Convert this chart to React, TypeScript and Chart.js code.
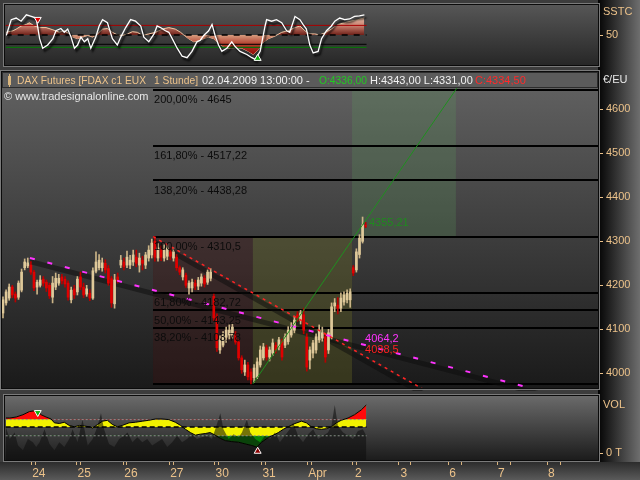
import React, { useEffect, useRef } from "react";
import { Chart, registerables } from "chart.js";

Chart.register(...registerables);

const FONT = '"Liberation Sans", Arial, sans-serif';
const TAN = "#ecc28a";

// FDAX hourly candles, 23.03.2009 – 02.04.2009 13:00 (bar index 0..117)
const openPrices = [
  4137, 4160, 4171, 4196, 4180, 4173, 4189, 4240, 4244, 4246, 4230, 4196, 4200, 4214, 4207, 4200, 4173, 4196, 4205, 4219,
  4214, 4205, 4167, 4192, 4185, 4219, 4196, 4180, 4182, 4171, 4232, 4240, 4240, 4250, 4238, 4215, 4158, 4219, 4246, 4253,
  4246, 4246, 4253, 4264, 4246, 4257, 4246, 4262, 4269, 4300, 4262, 4280, 4262, 4266, 4276, 4262, 4264, 4240, 4219, 4223,
  4194, 4194, 4205, 4198, 4205, 4216, 4207, 4216, 4175, 4130, 4053, 4064, 4082, 4087, 4087, 4087, 4071, 4035, 4003, 4019,
  4003, 3990, 3992, 4019, 4035, 4058, 4037, 4046, 4064, 4060, 4072, 4064, 4072, 4087, 4098, 4133, 4121, 4133, 4082, 4030,
  4046, 4053, 4076, 4080, 4083, 4053, 4083, 4153, 4155, 4148, 4162, 4167, 4167, 4240, 4235, 4270, 4300, 4336,
];
const highPrices = [
  4174, 4190, 4203, 4200, 4185, 4210, 4237, 4260, 4262, 4254, 4234, 4212, 4222, 4220, 4212, 4205, 4220, 4228, 4225, 4225,
  4220, 4210, 4196, 4200, 4220, 4230, 4205, 4200, 4190, 4240, 4276, 4270, 4262, 4258, 4245, 4220, 4225, 4228, 4268, 4262,
  4278, 4268, 4280, 4280, 4273, 4266, 4275, 4290, 4305, 4310.5, 4295, 4290, 4292, 4293, 4283, 4285, 4270, 4244, 4240, 4228,
  4210, 4214, 4212, 4218, 4226, 4222, 4235, 4238, 4180, 4135, 4085, 4095, 4105, 4110, 4112, 4095, 4076, 4040, 4030, 4025,
  4010, 4020, 4035, 4062, 4068, 4064, 4060, 4078, 4070, 4082, 4078, 4090, 4106, 4115, 4130, 4140, 4143, 4148, 4090, 4060,
  4075, 4090, 4110, 4105, 4090, 4100, 4160, 4170, 4172, 4183, 4185, 4190, 4192, 4245, 4283, 4315, 4355.21, 4343,
];
const lowPrices = [
  4126, 4155, 4166, 4172, 4162, 4168, 4185, 4235, 4240, 4225, 4188, 4180, 4196, 4198, 4186, 4170, 4160, 4190, 4200, 4203,
  4196, 4166, 4160, 4170, 4178, 4190, 4172, 4175, 4165, 4168, 4228, 4235, 4232, 4228, 4200, 4150, 4148, 4205, 4240, 4235,
  4240, 4238, 4245, 4242, 4230, 4235, 4238, 4255, 4262, 4255, 4255, 4256, 4255, 4258, 4258, 4255, 4234, 4224, 4212, 4195,
  4180, 4185, 4190, 4190, 4198, 4196, 4202, 4210, 4120, 4050, 4045, 4060, 4070, 4078, 4080, 4066, 4030, 4000, 3995, 3985,
  3976, 3980, 3988, 4014, 4030, 4030, 4028, 4040, 4046, 4053, 4030, 4058, 4066, 4082, 4092, 4118, 4112, 4090, 4005, 4010,
  4035, 4046, 4070, 4073, 4025, 4045, 4078, 4140, 4135, 4140, 4155, 4160, 4150, 4222, 4230, 4262, 4296, 4331,
];
const closePrices = [
  4167, 4185, 4196, 4178, 4171, 4205, 4230, 4253, 4251, 4230, 4194, 4207, 4212, 4205, 4194, 4176, 4205, 4216, 4216, 4210,
  4203, 4173, 4189, 4178, 4214, 4196, 4178, 4192, 4171, 4233, 4253, 4257, 4251, 4235, 4205, 4160, 4212, 4210, 4257, 4242,
  4264, 4257, 4269, 4250, 4262, 4250, 4269, 4280, 4296, 4264, 4285, 4264, 4280, 4285, 4266, 4276, 4240, 4230, 4235, 4200,
  4205, 4207, 4198, 4212, 4219, 4203, 4230, 4230, 4126, 4058, 4076, 4087, 4098, 4098, 4105, 4071, 4035, 4008, 4019, 3992,
  3985, 4012, 4026, 4053, 4060, 4037, 4053, 4069, 4053, 4076, 4037, 4083, 4098, 4105, 4121, 4126, 4137, 4098, 4014, 4053,
  4069, 4083, 4098, 4092, 4037, 4092, 4151, 4160, 4148, 4171, 4178, 4182, 4185, 4228, 4276, 4307, 4337, 4334.5,
];

// price axis
const priceTicks = [4000, 4100, 4200, 4300, 4400, 4500, 4600];
const priceMin = 3966.6;
const priceMax = 4684.8;

// Fibonacci retracement / extension of the 4310,5 -> 3976 swing
const swingHigh = 4310.5;
const swingLow = 3976;
const fibRatios = [2.0, 1.618, 1.382, 1.0, 0.618, 0.5, 0.382, 0.0];
const fibStartBar = 48.4;
const zoneBounds = [48.4, 80.6, 112.6, 146.1];

// trend line anchors (bar index, price)
const magentaAnchors = [{ x: 8.7, y: 4262 }, { x: 116.8, y: 4064.2 }];
const redAnchors = [{ x: 48.4, y: 4310.5 }, { x: 116.8, y: 4038.5 }];
const greenAnchors = [{ x: 80.6, y: 3976 }, { x: 146.1, y: 4645 }];
const greenTagValue = 4355.21;

// SSTC oscillator
const sstcIdx = [0.1, 1.7, 3.3, 4.9, 6.6, 8.2, 9.8, 10.9, 11.9, 13.5, 15.2, 16.2, 17.8, 18.9, 20, 21.1, 22.2, 23.2, 24.3, 25.4,
  26.5, 27.5, 29.1, 30.2, 31.3, 32.9, 34.5, 36.1, 37.2, 38.8, 40.4, 42, 43.7, 44.7, 46.3, 48, 49, 50.1, 51.7, 52.8,
  53.9, 55.5, 57.1, 58.7, 60.3, 61.9, 63, 64.1, 65.7, 66.8, 67.8, 68.9, 70, 71.6, 73.2, 74.3, 75.9, 78.1, 79.7, 80.8,
  82.4, 84, 84.5, 86.1, 87.7, 89.4, 91, 92, 93.7, 95.3, 96.3, 97.4, 98.5, 99.6, 101.2, 102.3, 103.9, 105.5, 106.6, 108.2,
  109.8, 111.4, 113, 114.6, 116.2];
const sstcVal = [49.2, 75.6, 78.3, 73, 83.6, 81, 78.3, 43.9, 28, 33.3, 43.9, 57.1, 60.8, 54.5, 59.8, 46.5, 28, 33.3, 46.5, 38.6,
  43.9, 28, 46.5, 65, 75.6, 70.4, 43.9, 33.3, 46.5, 62.4, 75.6, 73, 65, 46.5, 38.6, 51.8, 65, 62.4, 57.1, 54.5,
  43.9, 28, 14.8, 12.2, 22.7, 38.6, 41.3, 49.2, 57.1, 67.7, 49.2, 33.3, 22.7, 28, 38.6, 30.7, 22.7, 17.5, 12.2, 9.5,
  22.7, 65, 75.6, 73, 75.6, 70.4, 57.1, 54.5, 81, 75.6, 67.7, 59.8, 33.3, 20.1, 22.7, 43.9, 57.1, 65, 73, 78.3,
  75.6, 76.7, 81, 82, 83.6];
const sstcAreaIdx = [0.1, 2.3, 3.3, 4.9, 6.6, 7.6, 9.2, 10.9, 13, 15.2, 17.3, 18.9, 20.5, 21.6, 23.2, 24.8, 26.5, 28.1, 29.7, 31.3,
  32.9, 34.5, 36.1, 37.7, 39.4, 41, 42.6, 44.2, 46.3, 48.5, 50.6, 52.8, 54.9, 56.6, 57.6, 59.2, 60.9, 62.5, 64.1, 65.7,
  67.3, 68.9, 70.5, 72.2, 74.3, 76.5, 78.6, 80.2, 81.8, 82.9, 85.1, 87.2, 89.4, 91.5, 93.7, 95.3, 96.9, 98.5, 100.1, 101.7,
  103.3, 105.5, 107.6, 109.8, 111.9, 114.1, 116.2];
const sstcAreaVal = [54.5, 57.1, 59.8, 65, 67.7, 70.4, 65, 62.4, 62.4, 58.7, 54.5, 57.1, 51.8, 46.5, 43.9, 46.5, 49.2, 46.5, 51.8, 59.8,
  60.8, 54.5, 50.2, 49.2, 51.8, 55.5, 54.5, 49.2, 51.8, 54.5, 59.8, 62.4, 59.8, 54.5, 50.2, 43.9, 38.6, 41.3, 43.9, 46.5,
  43.9, 36, 30.7, 28, 29.1, 28, 22.7, 17.5, 25.4, 36, 43.9, 48.1, 54.5, 57.1, 62.4, 65, 57.1, 51.8, 51.8, 50.2,
  53.4, 59.8, 67.7, 70.4, 73, 75.6, 78.3];
const sstcLevels = { upper: 66, mid: 50, lower: 34.5, floor: 29.5 };
const sstcSignals = [{ x: 10.3, y: 76, down: true }, { x: 81.6, y: 11, down: false }];

// volume oscillator and volume
const volOscIdx = [0, 1.2, 3.3, 5.5, 7.6, 9.8, 11.4, 13, 14.6, 15.7, 17.3, 18.9, 20.5, 22.2, 23.8, 25.4, 27, 28.1, 29.7, 31.3,
  32.9, 34.5, 36.1, 37.7, 39.9, 42, 44.2, 46.3, 48.5, 50.6, 52.8, 54.9, 56.6, 58.2, 59.8, 61.4, 63, 64.6, 66.2, 67.8,
  69.5, 71.1, 73.2, 75.4, 77.5, 79.7, 81.3, 82.9, 85.1, 86.7, 88.3, 89.9, 91.5, 93.7, 95.8, 97.4, 99, 100.6, 102.3, 103.9,
  105.5, 107.1, 108.7, 110.9, 113, 115.2, 116.8];
const volOscVal = [61.5, 61.5, 63.2, 67.2, 72.8, 74.5, 67.2, 63.2, 59.8, 53, 51.9, 54.1, 48.5, 46.2, 48.5, 47.4, 46.2, 44, 50.2, 55.9,
  57.5, 50.2, 46.2, 48.5, 53, 54.1, 55.9, 57.5, 59.8, 59.8, 58.7, 54.1, 48.5, 41.7, 36, 31.5, 33.2, 34.3, 36, 31.5,
  25.9, 21.9, 20.2, 19.1, 16.2, 13.4, 10.6, 19.1, 27.6, 31.5, 36, 41.7, 46.2, 51.9, 55.9, 53, 46.2, 42.8, 41.7, 42.8,
  46.2, 53, 57.5, 61.5, 67.2, 75.7, 84.2];
const volIdx = [0, 1.2, 2.8, 3.9, 5.5, 7.1, 8.7, 9.8, 10.9, 12.5, 14.1, 15.7, 17.3, 18.9, 20.5, 21.6, 23.2, 24.8, 26.5, 28.1,
  29.5, 30.8, 31.8, 33.4, 35.1, 36.7, 38.3, 39.4, 41, 42.6, 44.2, 45.8, 47.4, 49, 50.6, 52.3, 53.9, 55.5, 57.1, 58.7,
  60.3, 61.9, 63.5, 65.2, 66.8, 68.2, 69.5, 70.5, 72.2, 73.8, 75.4, 76.5, 78.1, 79.2, 80.8, 82.4, 84, 85.6, 87.2, 88.8,
  90.4, 92, 93.1, 94.7, 96.3, 98, 99.6, 101.2, 102.8, 104.4, 105.5, 106.6, 107.6, 109.3, 110.9, 112.5, 114.1, 115.7, 116.8];
const volVal = [44.5, 24.7, 36, 13.4, 4.9, 24.7, 19.1, 10.6, 19.1, 41.7, 16.2, 4.9, 19.1, 10.6, 24.7, 41.7, 19.1, 58.7, 13.4, 24.7,
  44.5, 70, 41.7, 16.2, 10.6, 24.7, 30.4, 36, 19.1, 27.6, 19.1, 24.7, 13.4, 19.1, 24.7, 10.6, 19.1, 30.4, 19.1, 24.7,
  33.2, 24.7, 27.6, 30.4, 24.7, 47.4, 70, 41.7, 24.7, 33.2, 27.6, 36, 58.7, 36, 24.7, 19.1, 30.4, 24.7, 36, 19.1,
  30.4, 41.7, 53, 30.4, 19.1, 33.2, 41.7, 24.7, 30.4, 36, 47.4, 84.2, 47.4, 36, 30.4, 24.7, 38.9, 41.7, 30.4];
const volLevels = { upper: 58.7, mid: 45.7, lower: 30.4 };
const volSignals = [{ x: 10.3, y: 71, down: true }, { x: 81.6, y: 3.3, down: false }];

// time axis
const dayNames = ["24", "25", "26", "27", "30", "31", "Apr", "2", "3", "6", "7", "8"];
const dayLabelIdx = [10.65, 25.35, 40.5, 55.4, 70.1, 85.3, 101.0, 114.2, 129.0, 144.8, 160.6, 176.8];
const dayMarkIdx = [8.26, 9.58, 22.74, 24.06, 38.13, 39.2, 53.0, 54.3, 67.74, 68.8, 82.9, 84.0, 97.74, 99.1, 112.5, 113.8,
  127.4, 131.3, 143.5, 147.7, 159.4, 163.5, 175.5, 179.7];

const X_MIN = -0.32;
const X_MAX = 191.94;
const DATA_END = 116.9;

const pts = (xs: number[], ys: number[]) => xs.map((x, i) => ({ x, y: ys[i] }));
const slopeOf = (a: any, b: any) => (b.y - a.y) / (b.x - a.x);
const extendLine = (a: any, b: any, xEnd: number) => [a, b, { x: xEnd, y: b.y + slopeOf(a, b) * (xEnd - b.x) }];
const deNum = (v: number, d: number) => v.toFixed(d).replace(".", ",");
const deTrim = (v: number) => String(Math.round(v * 100) / 100).replace(".", ",");

const base: any = {
  responsive: false,
  animation: false,
  devicePixelRatio: 1,
  events: [],
  plugins: { legend: { display: false }, tooltip: { enabled: false } },
};

const hiddenX: any = { type: "linear", min: X_MIN, max: X_MAX, display: false, offset: false };

function rightAxis(min: number, max: number, ticks: number[], fmt: (v: number) => string) {
  return {
    type: "linear",
    position: "right",
    min,
    max,
    afterBuildTicks: (s: any) => {
      s.ticks = ticks.map((v) => ({ value: v }));
    },
    afterFit: (s: any) => {
      s.width = 42;
      s.paddingTop = 0;
      s.paddingBottom = 0;
    },
    ticks: { color: TAN, font: { family: FONT, size: 11 }, padding: 3, callback: (v: any) => fmt(Number(v)) },
    grid: { drawOnChartArea: false, drawTicks: true, tickLength: 5, tickColor: TAN },
    border: { display: false },
  };
}

function panelPlugin(stops: [number, string][]) {
  return {
    id: "panelFrame",
    beforeDraw(chart: any) {
      const { ctx, chartArea: a } = chart;
      const g = ctx.createLinearGradient(0, a.top, 0, a.bottom);
      stops.forEach(([o, c]) => g.addColorStop(o, c));
      ctx.save();
      ctx.fillStyle = g;
      ctx.fillRect(a.left, a.top, a.right - a.left, a.bottom - a.top);
      ctx.restore();
    },
    afterDraw(chart: any) {
      const { ctx, chartArea: a } = chart;
      ctx.save();
      ctx.lineWidth = 1;
      ctx.strokeStyle = "#0b0b0b";
      ctx.strokeRect(a.left - 0.5, a.top - 0.5, a.right - a.left + 1, a.bottom - a.top + 1);
      ctx.strokeStyle = "#7a7a7a";
      ctx.strokeRect(a.left - 1.5, a.top - 1.5, a.right - a.left + 3, a.bottom - a.top + 3);
      ctx.restore();
    },
  };
}

// per-dataset canvas shadow / pixel shift
const styleHooks = {
  id: "styleHooks",
  beforeDatasetDraw(chart: any, args: any) {
    const ds = chart.data.datasets[args.index];
    if (!ds.shadow && !ds.shift) return;
    const ctx = chart.ctx;
    ctx.save();
    if (ds.shift) ctx.translate(ds.shift[0], ds.shift[1]);
    if (ds.shadow) {
      ctx.shadowColor = ds.shadow.color;
      ctx.shadowBlur = ds.shadow.blur;
      ctx.shadowOffsetX = ds.shadow.dx;
      ctx.shadowOffsetY = ds.shadow.dy;
    }
  },
  afterDatasetDraw(chart: any, args: any) {
    const ds = chart.data.datasets[args.index];
    if (ds.shadow || ds.shift) chart.ctx.restore();
  },
};

function axisTitle(text: string, dy: number) {
  return {
    id: "axisTitle",
    afterDraw(chart: any) {
      const { ctx, chartArea: a } = chart;
      ctx.save();
      ctx.font = `11px ${FONT}`;
      ctx.fillStyle = text === "€/EU" ? "#e8e8e8" : TAN;
      ctx.textBaseline = "middle";
      ctx.fillText(text, a.right + 5, a.top + dy);
      ctx.restore();
    },
  };
}

const hLine = (v: number, color: string, dash: number[], width: number, order: number) => ({
  type: "line",
  data: [{ x: -0.1, y: v }, { x: DATA_END, y: v }],
  borderColor: color,
  borderDash: dash,
  borderWidth: width,
  pointRadius: 0,
  fill: false,
  order,
});

const signalSet = (sig: any[], colors: string[], order: number) => ({
  type: "line",
  data: sig.map((s) => ({ x: s.x, y: s.y })),
  showLine: false,
  pointStyle: "triangle",
  pointRadius: 4,
  pointRotation: sig.map((s) => (s.down ? 180 : 0)),
  pointBackgroundColor: colors,
  pointBorderColor: "#ffffff",
  pointBorderWidth: 1,
  order,
});

function makeSstc(canvas: HTMLCanvasElement) {
  const upperFill = (c: any) => {
    const ch = c.chart;
    if (!ch.chartArea) return "rgba(0,0,0,0)";
    const y = ch.scales.y;
    const g = ch.ctx.createLinearGradient(0, y.getPixelForValue(82), 0, y.getPixelForValue(50));
    g.addColorStop(0, "#f3cdb6");
    g.addColorStop(0.55, "#c27868");
    g.addColorStop(1, "#6e2018");
    return g;
  };
  const lowerFill = (c: any) => {
    const ch = c.chart;
    if (!ch.chartArea) return "rgba(0,0,0,0)";
    const y = ch.scales.y;
    const g = ch.ctx.createLinearGradient(0, y.getPixelForValue(50), 0, y.getPixelForValue(15));
    g.addColorStop(0, "#d69c7e");
    g.addColorStop(0.45, "#b23a2a");
    g.addColorStop(1, "#8c0000");
    return g;
  };
  const area = pts(sstcAreaIdx, sstcAreaVal);
  return new Chart(canvas, {
    type: "line",
    data: {
      datasets: [
        { data: area, backgroundColor: upperFill, fill: { target: { value: sstcLevels.mid }, below: "rgba(0,0,0,0)" }, borderColor: "#f0c8a4", borderWidth: 1, pointRadius: 0, order: 20 },
        { data: area, backgroundColor: lowerFill, fill: { target: { value: sstcLevels.mid }, above: "rgba(0,0,0,0)" }, borderWidth: 0, pointRadius: 0, order: 19 },
        hLine(sstcLevels.upper, "#a80000", [], 1, 10),
        hLine(sstcLevels.mid, "#000000", [6, 6], 1.5, 10),
        hLine(sstcLevels.lower, "#000000", [], 1, 10),
        hLine(sstcLevels.floor, "#0b6e0b", [], 1.2, 10),
        { data: pts(sstcIdx, sstcVal), borderColor: "#ffffff", borderWidth: 1.3, pointRadius: 0, fill: false, order: 5, shadow: { color: "rgba(0,0,0,0.9)", blur: 2, dx: 2, dy: 3 } },
        signalSet(sstcSignals, ["#e00000", "#10b010"], 1),
      ] as any,
    },
    options: {
      ...base,
      layout: { padding: { left: 2, top: 3, bottom: 4, right: 0 } },
      scales: { x: hiddenX, y: rightAxis(0, 100, [50], (v) => String(v)) as any },
    },
    plugins: [panelPlugin([[0, "#565656"], [1, "#272727"]]), styleHooks, axisTitle("SSTC", 7)],
  } as any);
}

function makePrice(canvas: HTMLCanvasElement) {
  const bars = openPrices.map((_, i) => i);
  const isUp = (i: number) => closePrices[i] >= openPrices[i];
  const wicks = bars.map((i) => ({ x: i, y: [lowPrices[i], highPrices[i]] }));
  const bodies = bars.map((i) => ({ x: i, y: [Math.min(openPrices[i], closePrices[i]), Math.max(openPrices[i], closePrices[i])] }));
  const fibLevels = fibRatios.map((r) => swingLow + r * (swingHigh - swingLow));
  const topLevel = fibLevels[0];

  const overlay = {
    id: "fibOverlay",
    beforeDatasetsDraw(chart: any) {
      const { ctx, chartArea: a, scales } = chart;
      const xs = scales.x;
      const ys = scales.y;
      ctx.save();
      ctx.beginPath();
      ctx.rect(a.left, a.top, a.right - a.left, a.bottom - a.top);
      ctx.clip();
      const zones = [
        { from: zoneBounds[0], to: zoneBounds[1], lo: swingLow, hi: swingHigh, color: "rgba(70,16,16,0.3)" },
        { from: zoneBounds[1], to: zoneBounds[2], lo: swingLow, hi: swingHigh, color: "rgba(112,112,34,0.32)" },
        { from: zoneBounds[2], to: zoneBounds[3], lo: swingHigh, hi: topLevel, color: "rgba(93,153,93,0.24)" },
      ];
      zones.forEach((z) => {
        const x1 = xs.getPixelForValue(z.from);
        const x2 = xs.getPixelForValue(z.to);
        const y1 = ys.getPixelForValue(z.hi);
        const y2 = ys.getPixelForValue(z.lo);
        ctx.fillStyle = z.color;
        ctx.fillRect(x1, y1, x2 - x1, y2 - y1);
      });
      const xStart = xs.getPixelForValue(fibStartBar);
      ctx.fillStyle = "#000000";
      fibLevels.forEach((lv) => {
        const y = Math.round(ys.getPixelForValue(lv));
        ctx.fillRect(xStart, y - 1, a.right - xStart, 2);
      });
      ctx.restore();
    },
    afterDatasetsDraw(chart: any) {
      const { ctx, chartArea: a, scales } = chart;
      const xs = scales.x;
      const ys = scales.y;
      ctx.save();
      ctx.beginPath();
      ctx.rect(a.left, a.top, a.right - a.left, a.bottom - a.top);
      ctx.clip();
      ctx.font = `11px ${FONT}`;
      ctx.textBaseline = "middle";
      const xStart = xs.getPixelForValue(fibStartBar);
      ctx.fillStyle = "#0c0c0c";
      fibLevels.forEach((lv, k) => {
        const y = ys.getPixelForValue(lv);
        ctx.fillText(`${deNum(fibRatios[k] * 100, 2)}% - ${deTrim(lv)}`, xStart + 1, y + 10.5);
      });

      // trend line values at the last bar
      const tagX = xs.getPixelForValue(magentaAnchors[1].x);
      ctx.textBaseline = "bottom";
      ctx.fillStyle = "#ff33ff";
      ctx.fillText(deNum(magentaAnchors[1].y, 1), tagX, ys.getPixelForValue(magentaAnchors[1].y) - 1);
      ctx.fillStyle = "#ff2020";
      ctx.fillText(deNum(redAnchors[1].y, 1), tagX, ys.getPixelForValue(redAnchors[1].y) - 1);
      const gSlope = slopeOf(greenAnchors[0], greenAnchors[1]);
      const gX = greenAnchors[0].x + (greenTagValue - greenAnchors[0].y) / gSlope;
      ctx.textBaseline = "top";
      ctx.fillStyle = "#1f8a1f";
      ctx.fillText(deNum(greenTagValue, 2), xs.getPixelForValue(gX) + 1, ys.getPixelForValue(greenTagValue));

      // instrument header
      const hTop = a.top;
      const hh = 16;
      ctx.fillStyle = "#5b5b5b";
      ctx.fillRect(a.left, hTop, a.right - a.left, hh);
      ctx.strokeStyle = "#2c2c2c";
      ctx.lineWidth = 1;
      ctx.strokeRect(a.left + 0.5, hTop + 0.5, a.right - a.left - 1, hh - 1);
      ctx.fillStyle = "#d8b47c";
      ctx.fillRect(a.left + 6, hTop + 4, 3, 9);
      ctx.fillRect(a.left + 7, hTop + 2, 1, 13);
      const last = openPrices.length - 1;
      const segs: [number, number, string, string][] = [
        [17, 129, "DAX Futures [FDAX c1 EUX", TAN],
        [154, 44, "1 Stunde]", TAN],
        [202, 110, "02.04.2009 13:00:00 -", "#f2f2f2"],
        [319, 48, `O:${deNum(openPrices[last], 2)}`, "#22c822"],
        [370, 103, `H:${deNum(highPrices[last], 2)} L:${deNum(lowPrices[last], 2)}`, "#f2f2f2"],
        [475, 52, `C:${deNum(closePrices[last], 2)}`, "#ff2a2a"],
      ];
      ctx.textBaseline = "middle";
      segs.forEach(([x, w, t, c]) => {
        ctx.fillStyle = c;
        ctx.fillText(t, x, hTop + hh / 2 + 0.5, w);
      });
      ctx.fillStyle = "#e6e6e6";
      ctx.fillText("© www.tradesignalonline.com", a.left + 2, hTop + 25, 146);
      ctx.restore();
    },
  };

  const shadowStyle = { borderColor: "rgba(12,12,12,0.5)", borderWidth: 5, pointRadius: 0, fill: false, order: 30 };
  return new Chart(canvas, {
    type: "bar",
    data: {
      datasets: [
        { type: "line", data: extendLine(magentaAnchors[0], magentaAnchors[1], X_MAX), ...shadowStyle, shift: [0, 3.5] },
        { type: "line", data: extendLine(redAnchors[0], redAnchors[1], 140), ...shadowStyle, shift: [-1, 4] },
        { type: "bar", data: wicks, backgroundColor: bars.map((i) => (isUp(i) ? "#cbb487" : "#b80000")), barThickness: 1, grouped: false, order: 20 },
        { type: "bar", data: bodies, backgroundColor: bars.map((i) => (isUp(i) ? "#dfc99a" : "#e00000")), barThickness: 2, minBarLength: 1, grouped: false, order: 19 },
        { type: "line", data: extendLine(magentaAnchors[0], magentaAnchors[1], X_MAX), borderColor: "#ff33ff", borderDash: [5, 13], borderWidth: 2, pointRadius: 0, fill: false, order: 3 },
        { type: "line", data: extendLine(redAnchors[0], redAnchors[1], 140), borderColor: "#ff2424", borderDash: [3, 4], borderWidth: 1.5, pointRadius: 0, fill: false, order: 2 },
        { type: "line", data: extendLine(greenAnchors[0], greenAnchors[1], 150), borderColor: "#1f8f1f", borderWidth: 1, pointRadius: 0, fill: false, order: 1 },
      ] as any,
    },
    options: {
      ...base,
      layout: { padding: { left: 2, top: 2, bottom: 3, right: 0 } },
      scales: { x: hiddenX, y: rightAxis(priceMin, priceMax, priceTicks, (v) => String(v)) as any },
    },
    plugins: [panelPlugin([[0, "#636363"], [1, "#1a1a1a"]]), styleHooks, overlay, axisTitle("€/EU", 8)],
  } as any);
}

function makeVolume(canvas: HTMLCanvasElement) {
  const osc = pts(volOscIdx, volOscVal);
  const axisTicks: { v: number; label: string }[] = [];
  dayMarkIdx.forEach((v) => axisTicks.push({ v, label: "" }));
  dayLabelIdx.forEach((v, k) => axisTicks.push({ v, label: dayNames[k] }));
  axisTicks.sort((p, q) => p.v - q.v);
  const none = "rgba(0,0,0,0)";
  return new Chart(canvas, {
    type: "line",
    data: {
      datasets: [
        { data: osc, fill: { target: { value: volLevels.mid }, above: "#f2f200", below: "#f2f200" }, borderWidth: 0, pointRadius: 0, order: 30 },
        { data: osc, fill: { target: { value: volLevels.upper }, above: "#ff0a0a", below: none }, borderWidth: 0, pointRadius: 0, order: 29 },
        { data: osc, fill: { target: { value: volLevels.lower }, above: none, below: "#078507" }, borderWidth: 0, pointRadius: 0, order: 29 },
        { data: pts(volIdx, volVal), fill: "start", backgroundColor: "rgba(12,12,12,0.55)", borderWidth: 0, pointRadius: 0, order: 25 },
        hLine(volLevels.upper, "#8c8c8c", [2, 2], 1, 10),
        hLine(volLevels.mid, "#000000", [5, 3], 1.5, 10),
        hLine(volLevels.lower, "#8c8c8c", [2, 2], 1, 10),
        { data: osc, borderColor: "#000000", borderWidth: 1, pointRadius: 0, fill: false, order: 5 },
        signalSet(volSignals, ["#10b010", "#8a0000"], 1),
      ] as any,
    },
    options: {
      ...base,
      layout: { padding: { left: 2, top: 3, bottom: 0, right: 0 } },
      scales: {
        x: {
          type: "linear",
          min: X_MIN,
          max: X_MAX,
          offset: false,
          position: "bottom",
          afterBuildTicks: (s: any) => {
            s.ticks = axisTicks.map((t) => ({ value: t.v }));
          },
          afterFit: (s: any) => {
            s.height = 20;
            s.paddingLeft = 0;
            s.paddingRight = 0;
          },
          ticks: {
            autoSkip: false,
            maxRotation: 0,
            color: TAN,
            font: { family: FONT, size: 12 },
            padding: 1,
            callback: (_v: any, i: number) => axisTicks[i].label,
          },
          grid: {
            drawOnChartArea: false,
            drawTicks: true,
            tickLength: 5,
            tickColor: (c: any) => (c.tick && c.tick.label ? "rgba(0,0,0,0)" : "#d9b27c"),
          },
          border: { display: false },
        },
        y: rightAxis(-12, 100, [0], () => "0 T") as any,
      },
    },
    plugins: [panelPlugin([[0, "#6a6a6a"], [1, "#1c1c1c"]]), styleHooks, axisTitle("VOL", 9)],
  } as any);
}

export default function App() {
  const sstcRef = useRef<HTMLCanvasElement>(null);
  const priceRef = useRef<HTMLCanvasElement>(null);
  const volRef = useRef<HTMLCanvasElement>(null);

  useEffect(() => {
    document.body.style.margin = "0";
    const charts = [
      makeSstc(sstcRef.current as HTMLCanvasElement),
      makePrice(priceRef.current as HTMLCanvasElement),
      makeVolume(volRef.current as HTMLCanvasElement),
    ];
    return () => charts.forEach((c) => c.destroy());
  }, []);

  const abs = (top: number, h: number): React.CSSProperties => ({ position: "absolute", left: 0, top, width: 640, height: h });

  return (
    <div style={{ position: "fixed", left: 0, top: 0, width: 640, height: 480, overflow: "hidden", background: "#3c3c3c" }}>
      <div style={{ position: "absolute", left: 598, top: 0, width: 42, height: 480, background: "linear-gradient(to right, #040404, #6e6e6e)" }} />
      <div style={{ position: "absolute", left: 0, top: 462, width: 640, height: 18, background: "linear-gradient(to bottom, #2c2c2c, #5a5a5a)" }} />
      <canvas ref={sstcRef} width={640} height={70} style={abs(0, 70)} />
      <canvas ref={priceRef} width={640} height={321} style={abs(70, 321)} />
      <canvas ref={volRef} width={640} height={89} style={abs(391, 89)} />
    </div>
  );
}
